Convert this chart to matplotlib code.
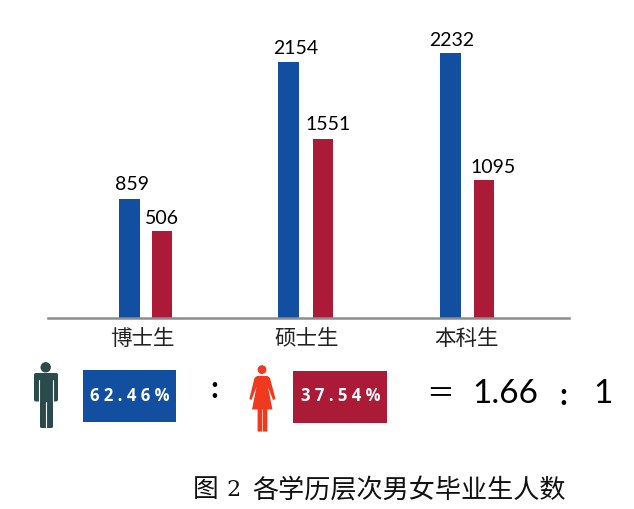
import matplotlib
matplotlib.use('Agg')
import numpy as np
import matplotlib.pyplot as plt
from matplotlib.patches import Circle, FancyBboxPatch, Polygon, Rectangle

categories = ['博士生', '硕士生', '本科生']
male_values = [859, 2154, 2232]
female_values = [506, 1551, 1095]
# the bars in the picture are not to scale with their labels, so heights are read separately
male_heights = [118.5, 256, 265]
female_heights = [87, 179, 138]
male_share = '6 2 . 4 6 %'
female_share = '3 7 . 5 4 %'
ratio_left = '1.66'
ratio_right = '1'
title_text = '各学历层次男女毕业生人数'

BLUE = '#124fa1'
RED = '#ab1a37'
LATIN = ['Lato', 'Noto Sans CJK SC']
CJK = ['Noto Sans CJK SC', 'DejaVu Sans']

fig = plt.figure(figsize=(6.34, 5.10), dpi=100, facecolor='white')

# bars
ax = fig.add_axes([48 / 634, 191.5 / 510, 521 / 634, 300 / 510])
x = np.arange(len(categories))
ax.bar(x + np.array([-0.102, -0.112, -0.105]), male_heights, width=0.131, color=BLUE)
ax.bar(x + np.array([0.100, 0.105, 0.105]), female_heights, width=0.126, color=RED)
# labels sit a little off the bars, differently for each group
male_dx = [-0.085, -0.065, -0.095]
female_dx = [0.10, 0.135, 0.16]
male_dy = [7, 5, 4]
female_dy = [4, 6, 4]
for i in x:
    ax.text(i + male_dx[i], male_heights[i] + male_dy[i], str(male_values[i]), ha='center', va='bottom',
            fontsize=14, family=LATIN, color='black')
    ax.text(i + female_dx[i], female_heights[i] + female_dy[i], str(female_values[i]), ha='center', va='bottom',
            fontsize=14, family=LATIN, color='black')
ax.set_xlim(-0.609, 2.635)
ax.set_ylim(0, 300)
ax.set_xticks(x + np.array([-0.02, 0.0, -0.005]))
ax.set_xticklabels(categories, family=CJK, fontsize=15.5, color='#222222')
ax.tick_params(axis='x', length=0, pad=6.5)
ax.set_yticks([])
for s in ['top', 'left', 'right']:
    ax.spines[s].set_visible(False)
ax.spines['bottom'].set_color('#8c8c8c')
ax.spines['bottom'].set_linewidth(1.8)
ax.patch.set_alpha(0)

# lower strip, in pixel coordinates of the picture
ov = fig.add_axes([0, 0, 1, 1])
ov.set_xlim(0, 634)
ov.set_ylim(510, 0)
ov.axis('off')
ov.patch.set_alpha(0)

# man icon
MAN = '#2b4a4b'
ov.add_patch(Circle((45.7, 368.3), 5.2, color=MAN, lw=0))
ov.add_patch(FancyBboxPatch((36, 376), 20, 24.5, boxstyle='round,pad=2', color=MAN, lw=0))
ov.add_patch(FancyBboxPatch((41.5, 395), 10, 32.5, boxstyle='round,pad=1.5', color=MAN, lw=0))
ov.plot([38.8, 38.8], [381, 403], color='white', lw=0.8)
ov.plot([52.8, 52.8], [381, 403], color='white', lw=0.8)
ov.plot([46, 46], [403, 430], color='white', lw=0.8)

# woman icon
WOMAN = '#ef3a20'
ov.add_patch(Circle((262, 370.6), 4.4, color=WOMAN, lw=0))
ov.add_patch(Polygon([(257, 377), (267.5, 377), (270, 379), (275.5, 400), (273, 401), (268, 388),
                      (272.5, 410.5), (252, 410.5), (256.5, 388), (251.5, 401), (249.3, 400), (254.5, 379)],
                     closed=True, color=WOMAN, lw=0))
ov.add_patch(FancyBboxPatch((258.2, 410), 3.4, 22, boxstyle='round,pad=0.6', color=WOMAN, lw=0))
ov.add_patch(FancyBboxPatch((263.4, 410), 3.4, 22, boxstyle='round,pad=0.6', color=WOMAN, lw=0))

# share boxes
ov.add_patch(Rectangle((83, 371), 93, 52, color=BLUE, lw=0))
ov.add_patch(Rectangle((293, 372.3), 94, 51.5, color=RED, lw=0))
ov.text(129.5, 396, male_share, ha='center', va='center', color='white', fontsize=12,
        fontweight='bold', family=['Open Sans'])
ov.text(341, 396.5, female_share, ha='center', va='center', color='white', fontsize=12,
        fontweight='bold', family=['Open Sans'])

# ratio
ov.text(214, 389, ':', ha='center', va='center', fontsize=22, fontweight='bold', family=LATIN, color='black')
ov.text(440, 394, '＝', ha='center', va='center', fontsize=20, family=CJK, color='black')
ov.text(505, 394, ratio_left, ha='center', va='center', fontsize=24, family=LATIN, color='black')
ov.text(563, 396, ':', ha='center', va='center', fontsize=22, fontweight='bold', family=LATIN, color='black')
ov.text(603, 394, ratio_right, ha='center', va='center', fontsize=24, family=LATIN, color='black')

# caption
ov.text(193, 490, '图', ha='left', va='center', fontsize=18.5, family=CJK, color='#111111')
ov.text(226, 490, '2', ha='left', va='center', fontsize=16, family=['DejaVu Serif'], color='#111111')
ov.text(252, 490, title_text, ha='left', va='center', fontsize=18.8, family=CJK, color='#111111')

fig.savefig('out.png', dpi=100)
